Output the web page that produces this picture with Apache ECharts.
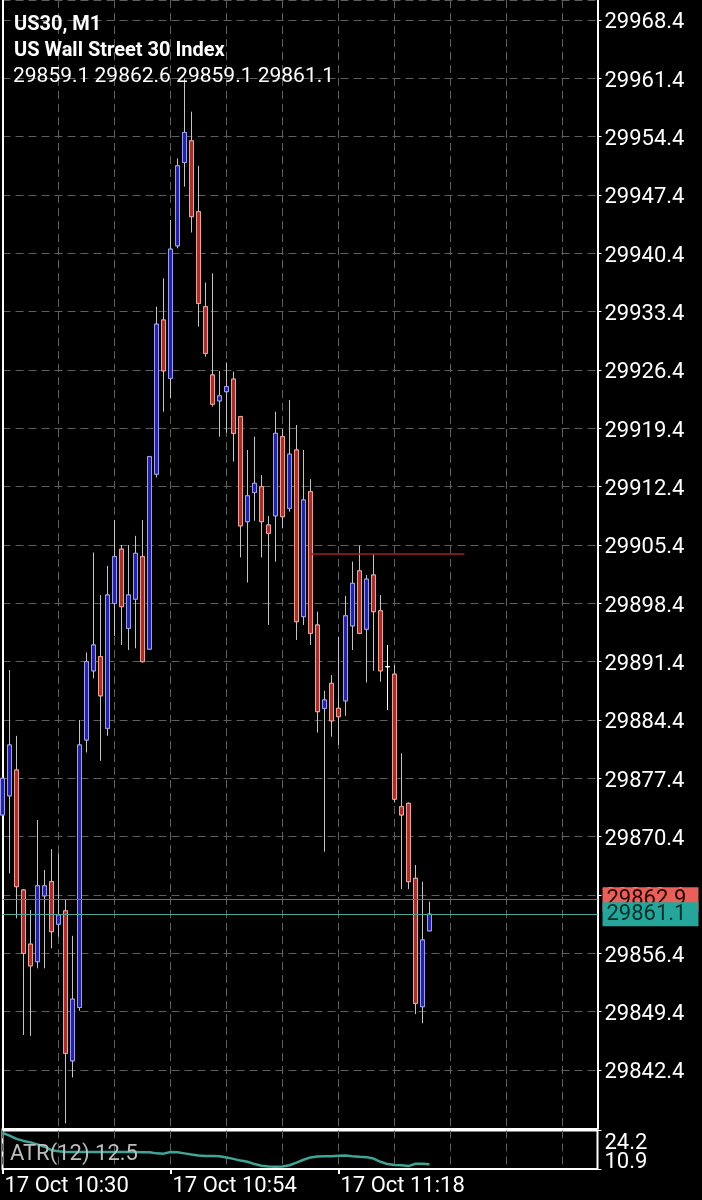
<!DOCTYPE html>
<html><head><meta charset="utf-8">
<style>html,body{margin:0;padding:0;background:#000;}#c{width:702px;height:1200px;}</style>
<script src="https://cdn.jsdelivr.net/npm/echarts@6/dist/echarts.min.js"></script>
</head><body><div id="c"></div>
<script>
const symbolName = 'US30, M1';
const symbolDesc = 'US Wall Street 30 Index';
const dateLabel = '17 Oct';
const startTime = '10:30';
const slotCount = 86;           // visible bar slots on the time axis
const timeLabelStep = 24;        // minutes between time labels

const open  = [29873.0,29875.3,29878.4,29864.0,29857.5,29855.4,29863.3,29865.0,29859.9,29861.5,
               29843.5,29849.9,29882.0,29890.3,29892.0,29883.4,29898.4,29904.9,29895.4,29898.9,
               29904.0,29892.9,29913.9,29932.4,29925.4,29941.3,29951.3,29953.9,29945.4,29934.0,
               29925.8,29922.7,29923.8,29925.3,29920.8,29908.2,29911.7,29912.4,29907.8,29908.9,
               29918.4,29909.8,29916.8,29896.8,29911.8,29895.8,29885.8,29888.8,29885.8,29886.7,
               29895.7,29902.3,29895.3,29901.8,29897.5,29890.8,29889.9,29874.0,29874.4,29865.4,
               29850.0,29859.1];
const high  = [29877.5,29890.4,29882.5,29864.1,29861.6,29872.4,29866.4,29868.9,29868.4,29862.9,
               29858.5,29884.4,29892.5,29904.5,29899.4,29902.9,29908.4,29905.4,29905.4,29906.5,
               29908.4,29916.1,29934.0,29937.4,29944.4,29951.8,29961.4,29957.4,29950.9,29936.9,
               29938.0,29926.3,29927.3,29926.2,29920.9,29916.8,29918.4,29913.8,29908.9,29921.4,
               29919.3,29922.8,29919.8,29916.8,29913.3,29897.4,29887.9,29889.8,29894.4,29899.3,
               29903.4,29905.3,29901.8,29904.3,29899.4,29893.4,29891.0,29880.4,29874.5,29867.0,
               29865.0,29862.6];
const low   = [29872.9,29866.0,29860.6,29846.6,29846.5,29854.6,29854.6,29857.0,29858.4,29836.0,
               29841.5,29849.5,29880.5,29889.4,29879.5,29882.5,29894.5,29893.4,29892.8,29893.0,
               29891.3,29892.8,29913.5,29921.4,29923.0,29941.0,29948.4,29942.9,29931.6,29928.0,
               29922.0,29918.4,29918.9,29915.4,29903.9,29900.9,29908.3,29903.9,29895.8,29903.4,
               29907.4,29909.4,29894.0,29895.8,29893.4,29882.9,29868.6,29882.4,29881.4,29884.9,
               29892.8,29894.7,29888.9,29890.3,29889.0,29885.6,29874.5,29864.1,29864.1,29849.1,
               29848.0,29859.1];
const close = [29877.4,29881.4,29864.4,29856.4,29854.9,29864.5,29864.5,29859.0,29861.0,29844.4,
               29850.9,29881.4,29891.4,29893.4,29887.3,29899.4,29904.0,29898.0,29899.4,29904.4,
               29891.4,29916.0,29931.9,29926.3,29940.9,29950.9,29954.9,29944.8,29934.4,29928.4,
               29922.3,29923.3,29924.4,29918.8,29907.7,29911.3,29912.8,29908.2,29906.8,29918.8,
               29908.8,29916.3,29896.2,29910.8,29894.8,29885.4,29886.8,29884.3,29884.8,29896.9,
               29900.8,29894.8,29901.3,29897.4,29890.3,29890.8,29874.9,29873.0,29865.0,29850.4,
               29858.0,29861.1];
const atr   = [23.4,22.4,21.3,20.6,20.1,19.4,18.6,17.4,17.0,16.8,
               16.8,16.8,16.8,16.8,16.8,16.8,16.8,16.8,16.8,16.8,
               16.7,16.7,16.3,16.2,16.8,16.7,16.3,15.9,15.6,15.4,
               15.4,15.3,14.9,14.4,13.8,13.4,12.6,12.0,11.8,11.7,
               11.8,12.2,13.1,14.1,14.9,15.2,15.3,15.3,15.5,15.6,
               15.3,15.1,15.0,14.5,13.4,12.6,12.3,12.2,11.9,12.7,
               12.7,12.5];
const atrName = 'ATR(12)';
const atrRange = [10.9, 24.2];
const priceTickLabels = ['29968.4','29961.4','29954.4','29947.4','29940.4','29933.4','29926.4',
                         '29919.4','29912.4','29905.4','29898.4','29891.4','29884.4','29877.4',
                         '29870.4','29863.4','29856.4','29849.4','29842.4'];
const priceTop = 29970.8;
const askPrice = 29862.9;
const bidPrice = 29861.1;
const levelLine = { fromBar: 44, toBar: 66, price: 29904.3 };

// ---- build ----
const times = [];
(function () {
  const [h0, m0] = startTime.split(':').map(Number);
  for (let i = 0; i < slotCount; i++) {
    const t = h0 * 60 + m0 + i;
    times.push(String(Math.floor(t / 60)).padStart(2, '0') + ':' + String(t % 60).padStart(2, '0'));
  }
})();
const tickStep = +(parseFloat(priceTickLabels[0]) - parseFloat(priceTickLabels[1])).toFixed(1);
const priceMin = +(parseFloat(priceTickLabels[priceTickLabels.length - 1]) - tickStep).toFixed(1);

const wickData = open.map((o, i) => [o, close[i], low[i], high[i]]);
const bodyData = open.map((o, i) => [o, close[i], Math.min(o, close[i]), Math.max(o, close[i])]);
const last = open.length - 1;
const ohlcText = [open[last], high[last], low[last], close[last]].map(v => v.toFixed(1)).join(' ');

const FONT = 'Roboto';
const gridDash = { color: '#5e5e5e', width: 1, type: [8, 5] };
const showTimeIdx = (idx) => idx % timeLabelStep === 0 && idx < open.length;
const atrInterval = +(atrRange[1] - atrRange[0]).toFixed(1);

function atrAxis(showMin, showMax, rich) {
  return { type: 'value', gridIndex: 1, position: 'right', min: atrRange[0], max: atrRange[1], interval: atrInterval,
    axisLine: { show: false },
    axisTick: { show: true, inside: false, length: 4, lineStyle: { color: '#fff', width: 1 } },
    axisLabel: { show: true, color: '#fff', fontSize: 22, fontFamily: FONT, margin: 7, hideOverlap: false,
      showMinLabel: showMin, showMaxLabel: showMax,
      formatter: (v) => '{r|' + v.toFixed(1) + '}', rich: { r: rich } },
    splitLine: { show: false } };
}

const chart = echarts.init(document.getElementById('c'), null, { renderer: 'canvas' });
chart.setOption({
  backgroundColor: '#000',
  animation: false,
  title: [
    { text: symbolName, left: 9, top: 7, textStyle: { color: '#fff', fontSize: 20, fontWeight: 'bold', fontFamily: FONT, lineHeight: 26 } },
    { text: symbolDesc, left: 9, top: 33, textStyle: { color: '#fff', fontSize: 20, fontWeight: 'bold', fontFamily: FONT, lineHeight: 26 } },
    { text: ohlcText, left: 8, top: 59, textStyle: { color: '#fff', fontSize: 21, fontWeight: 'normal', fontFamily: FONT, lineHeight: 26 } },
    { text: atrName + ' ' + atr[last].toFixed(1), left: 5, top: 1136, textStyle: { color: '#bdbdbd', fontSize: 22, fontWeight: 'normal', fontFamily: FONT, lineHeight: 26 } }
  ],
  grid: [
    { left: 2.5, right: 104.5, top: 0, bottom: 71.67, outerBoundsMode: 'none', containLabel: false },
    { left: 2.5, right: 104.5, top: 1130.5, bottom: 31, show: true, borderColor: '#fff', borderWidth: 2, backgroundColor: 'transparent', outerBoundsMode: 'none', containLabel: false }
  ],
  xAxis: [
    { type: 'category', gridIndex: 0, data: times, boundaryGap: false,
      axisLine: { show: true, onZero: false, lineStyle: { color: '#fff', width: 2 } },
      axisTick: { show: false }, axisLabel: { show: false },
      splitLine: { show: true, interval: 7, lineStyle: gridDash } },
    { type: 'category', gridIndex: 1, data: times, boundaryGap: false, position: 'bottom',
      axisLine: { show: false },
      axisTick: { show: true, inside: false, length: 5, interval: (i) => showTimeIdx(i), lineStyle: { color: '#fff', width: 2 } },
      axisLabel: { show: true, interval: (i) => showTimeIdx(i), formatter: (v) => dateLabel + ' ' + v,
        color: '#fff', fontSize: 22, fontFamily: FONT, align: 'left', margin: 6, padding: [0, 0, 0, 2], hideOverlap: false },
      splitLine: { show: true, interval: 7, lineStyle: gridDash } }
  ],
  yAxis: [
    { type: 'value', gridIndex: 0, position: 'right', min: priceMin, max: priceTop, interval: tickStep, scale: true,
      axisLine: { show: true, onZero: false, lineStyle: { color: '#fff', width: 2 } },
      axisTick: { show: true, inside: false, length: 4, lineStyle: { color: '#fff', width: 1 } },
      axisLabel: { show: true, color: '#fff', fontSize: 22, fontFamily: FONT, margin: 7, showMinLabel: false, showMaxLabel: false,
        hideOverlap: false, formatter: (v) => '{v|' + v.toFixed(1) + '}',
        rich: { v: { padding: [6, 0, 0, 0], fontSize: 22, color: '#fff', fontFamily: FONT } } },
      splitLine: { show: true, lineStyle: gridDash } },
    { type: 'value', gridIndex: 0, position: 'left', min: 0, max: 1,
      axisLine: { show: true, onZero: false, lineStyle: { color: '#fff', width: 2 } },
      axisTick: { show: false }, axisLabel: { show: false }, splitLine: { show: false } },
    // ATR axis carrying the top (max) label
    atrAxis(false, true, { padding: [26, 0, 0, 0], lineHeight: 14, fontSize: 22, color: '#fff', fontFamily: FONT }),
    // ATR axis carrying the bottom (min) label
    atrAxis(true, false, { padding: [0, 0, 14, 0], lineHeight: 14, fontSize: 22, color: '#fff', fontFamily: FONT })
  ],
  series: [
    { name: 'wicks', type: 'candlestick', xAxisIndex: 0, yAxisIndex: 0, data: wickData, barWidth: 4,
      itemStyle: { color: 'transparent', color0: 'transparent', borderColor: '#c4c4c4', borderColor0: '#c4c4c4',
        borderColorDoji: '#ffffff', borderWidth: 1 } },
    { name: 'bodies', type: 'candlestick', xAxisIndex: 0, yAxisIndex: 0, data: bodyData, barWidth: 4,
      itemStyle: { color: '#2424a0', color0: '#a3302a', borderColor: '#9c9cf2', borderColor0: '#f2a096',
        borderColorDoji: '#ffffff', borderWidth: 1 },
      markLine: { silent: true, symbol: ['none', 'none'], animation: false,
        data: [
          [ { coord: [times[levelLine.fromBar], levelLine.price], lineStyle: { color: '#a82020', width: 1.5, type: 'solid' }, label: { show: false } },
            { coord: [times[levelLine.toBar], levelLine.price] } ],
          { yAxis: askPrice, lineStyle: { color: '#c24a4a', width: 1, type: 'solid' },
            label: { show: true, position: 'end', distance: 5, formatter: askPrice.toFixed(1), backgroundColor: '#e8605a',
              color: '#2a0505', fontSize: 22, fontFamily: FONT, padding: [2, 12, 0, 4], lineHeight: 22 } },
          { yAxis: bidPrice, lineStyle: { color: '#4aa89a', width: 1, type: 'solid' },
            label: { show: true, position: 'end', distance: 5, formatter: bidPrice.toFixed(1), backgroundColor: '#26a69a',
              color: '#06302b', fontSize: 22, fontFamily: FONT, padding: [2, 12, 0, 4], lineHeight: 22 } }
        ] } },
    { name: atrName, type: 'line', xAxisIndex: 1, yAxisIndex: 2, data: atr, symbol: 'none',
      lineStyle: { color: '#3fa596', width: 2.5 }, z: 1 }
  ]
});
</script></body></html>
